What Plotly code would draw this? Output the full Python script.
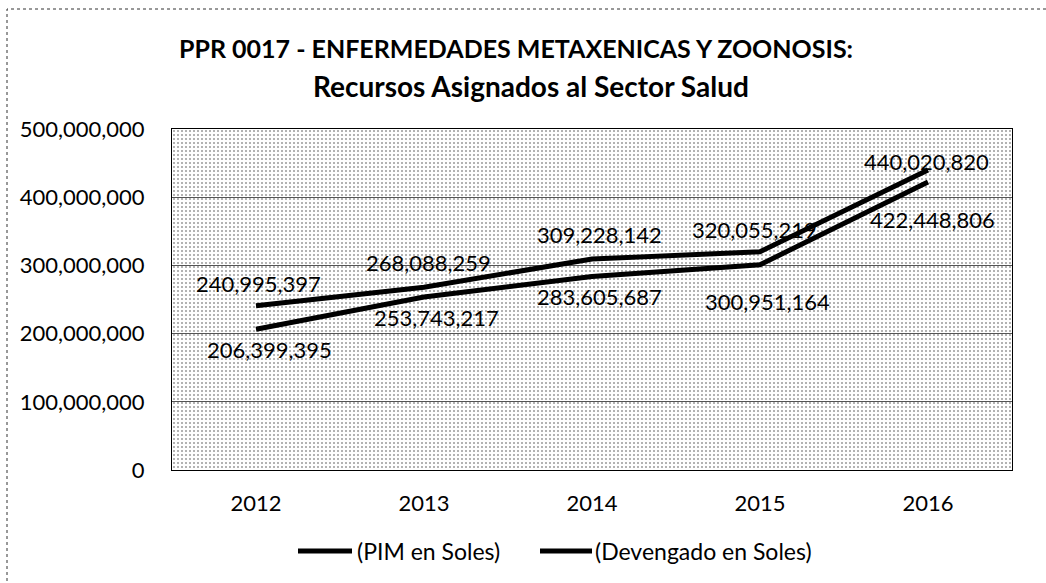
import plotly.graph_objects as go

# Años y montos (soles)
years = ["2012", "2013", "2014", "2015", "2016"]
pim = [240995397, 268088259, 309228142, 320055219, 440020820]
devengado = [206399395, 253743217, 283605687, 300951164, 422448806]
series_names = ["(PIM en Soles)", "(Devengado en Soles)"]
y_ticks = [0, 100000000, 200000000, 300000000, 400000000, 500000000]
title_lines = ["PPR 0017 - ENFERMEDADES METAXENICAS Y ZOONOSIS:",
               "Recursos Asignados al Sector Salud"]

# Desplazamientos (px) de las etiquetas de datos
pim_label_shift = [(2, 22), (4, 25), (7, 25), (-6, 22), (-2, 8)]
dev_label_shift = [(13, -20), (12, -21), (7, -20), (7, -37), (4, -38)]

FONT = "Lato"
W, H = 1046, 583
L, R, T, B = 172, 34, 129, 113
pw, ph = W - L - R, H - T - B


def px_x(px):
    return (px - L) / pw


def px_y(py):
    return (H - B - py) / ph


fig = go.Figure()

# Fondo punteado del área de trazado
fig.add_trace(go.Bar(
    x=[years[2]], y=[y_ticks[-1]], width=[len(years)],
    marker=dict(color="rgba(0,0,0,0)", line=dict(width=0),
                pattern=dict(shape=".", size=4, solidity=0.2,
                             fgcolor="#333333", bgcolor="rgba(0,0,0,0)")),
    hoverinfo="skip", showlegend=False,
))

for vals in (pim, devengado):
    fig.add_trace(go.Scatter(
        x=years, y=vals, mode="lines",
        line=dict(color="black", width=5),
        showlegend=False,
    ))

annotations = []
for vals, shifts in ((pim, pim_label_shift), (devengado, dev_label_shift)):
    for i, (v, (dx, dy)) in enumerate(zip(vals, shifts)):
        annotations.append(dict(
            x=i, y=v, xref="x", yref="y", text=f"{v:,}", showarrow=False,
            xshift=dx, yshift=dy,
            font=dict(family=FONT, size=22, color="black"),
        ))

# Título en dos líneas
for text, cx, cy, size in zip(title_lines, (516, 531), (48, 86), (25, 28)):
    annotations.append(dict(
        x=px_x(cx), y=px_y(cy), xref="paper", yref="paper",
        text=f"<b>{text}</b>", showarrow=False,
        xanchor="center", yanchor="middle",
        font=dict(family=FONT, size=size, color="black"),
    ))

fig.update_layout(
    width=W, height=H,
    margin=dict(l=L, r=R, t=T, b=B),
    paper_bgcolor="white", plot_bgcolor="white",
    font=dict(family=FONT, size=22, color="black"),
    showlegend=False,
    bargap=0,
    annotations=annotations,
)

fig.update_xaxes(
    type="category", categoryorder="array", categoryarray=years,
    range=[-0.5, 4.5],
    showline=True, linecolor="black", linewidth=1, mirror=True,
    showgrid=False, ticks="", ticklabelstandoff=14,
    tickfont=dict(family=FONT, size=22),
)
fig.update_yaxes(
    range=[0, 500000000], tickvals=y_ticks,
    tickformat=",d",
    showline=True, linecolor="black", linewidth=1, mirror=True,
    showgrid=True, gridcolor="#555555", gridwidth=1,
    zeroline=False, ticks="", ticklabelstandoff=22,
    tickfont=dict(family=FONT, size=22),
)

# Leyenda
legend_y = px_y(551)
items = [(298, 352, 355, series_names[0]), (540, 592, 593, series_names[1])]
for x0, x1, tx, name in items:
    fig.add_shape(type="line", xref="paper", yref="paper",
                  x0=px_x(x0), x1=px_x(x1), y0=legend_y, y1=legend_y,
                  line=dict(color="black", width=5))
    fig.add_annotation(x=px_x(tx), y=legend_y, xref="paper", yref="paper",
                       text=name, showarrow=False, xanchor="left", yanchor="middle",
                       font=dict(family=FONT, size=23, color="black"))

# Marco exterior del gráfico
fig.add_shape(type="rect", xref="paper", yref="paper",
              x0=px_x(7), x1=px_x(1050), y0=px_y(600), y1=px_y(9),
              line=dict(color="#333333", width=1, dash="dot"))

fig.write_html("out.html")
